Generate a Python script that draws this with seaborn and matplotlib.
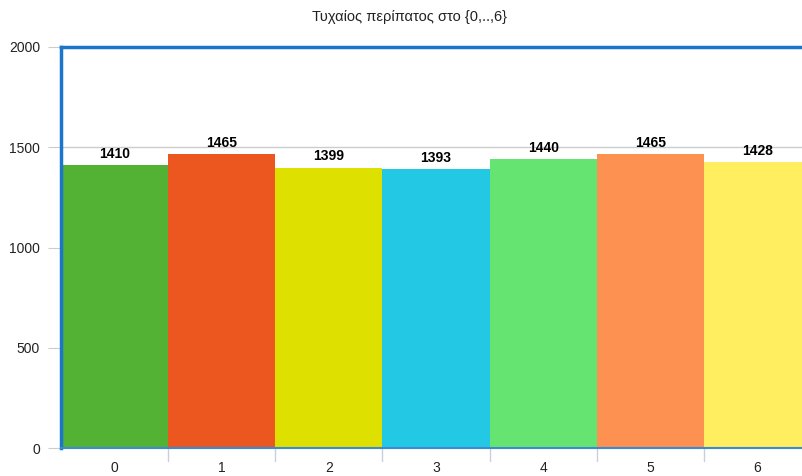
import matplotlib
matplotlib.use("Agg")
import matplotlib.pyplot as plt
import seaborn as sns

# data
states = ["0", "1", "2", "3", "4", "5", "6"]
visits = [1410, 1465, 1399, 1393, 1440, 1465, 1428]
colors = ["#53B234", "#EB571E", "#DEE000", "#22C8E4", "#66E472", "#FD9152", "#FEEE60"]
yticks = [0, 500, 1000, 1500, 2000]

sns.set_style("white")
plt.rcParams["font.family"] = ["Liberation Sans", "DejaVu Sans"]

fig = plt.figure(figsize=(8.03, 4.76), dpi=100)
# axes runs a little past the right edge, like the cropped original
ax = fig.add_axes([61 / 803, 28 / 476, 750 / 803, 401 / 476])

sns.barplot(x=states, y=visits, hue=states, palette=colors, width=1.0,
            legend=False, saturation=1, linewidth=0, ax=ax)

ax.set_ylim(0, 2000)
ax.set_xlim(-0.5, 6.5)
ax.set_yticks(yticks)
ax.yaxis.grid(True, color="#cccccc", linewidth=1)
ax.set_axisbelow(True)
ax.tick_params(axis="y", length=9.5, color="#cccccc", labelsize=10, pad=5.5,
               left=True, labelcolor="#222222")
ax.tick_params(axis="x", length=0, labelsize=10, pad=9, labelcolor="#222222")

# boundary ticks between bars
for b in range(1, 7):
    ax.plot([b - 0.5, b - 0.5], [0, -0.032], transform=ax.get_xaxis_transform(),
            color="#c8d0dc", linewidth=1, clip_on=False)

for side in ["left", "top"]:
    ax.spines[side].set_color("#1B75C9")
    ax.spines[side].set_linewidth(2.5)
ax.spines["bottom"].set_color("#3C8AD0")
ax.spines["bottom"].set_linewidth(1.5)
ax.spines["right"].set_visible(False)

for i, v in enumerate(visits):
    ax.annotate(str(v), (i, v), xytext=(0, 3), textcoords="offset points",
                ha="center", va="bottom", fontsize=10, fontweight="bold",
                color="black")

ax.set_xlabel("")
ax.set_ylabel("")
fig.text(410 / 803, 1 - 17 / 476, "Τυχαίος περίπατος στο {0,..,6}",
         ha="center", va="center", fontsize=10.5, color="#222222")

fig.savefig("out.png", dpi=100)
